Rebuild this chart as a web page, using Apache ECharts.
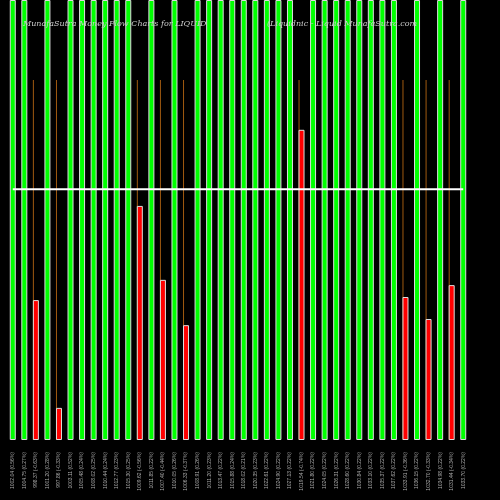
<!DOCTYPE html>
<html>
<head>
<meta charset="utf-8">
<script src="https://cdn.jsdelivr.net/npm/echarts@6/dist/echarts.min.js"></script>
<style>html,body{margin:0;padding:0;background:#000}#c{width:500px;height:500px}</style>
</head>
<body>
<div id="c"></div>
<script>
// bar heights as % of full scale; 100 = green full bar
var flowValues = [100,100,31.8,100,7.3,100,100,100,100,100,100,53.2,100,36.4,100,26.1,100,100,100,100,
                  100,100,100,100,100,70.5,100,100,100,100,100,100,100,100,32.5,100,27.5,100,35.2,100];
var isRed = [0,0,1,0,1,0,0,0,0,0,0,1,0,1,0,1,0,0,0,0, 0,0,0,0,0,1,0,0,0,0,0,0,0,0,1,0,1,0,1,0];
var wickTop = 81.8;
var levelLine = 57.0;
var labels = ['1002.04 (0.56%)','1004.75 (0.27%)','998.37 (-0.63%)','1001.20 (0.28%)','997.86 (-0.33%)',
  '1003.11 (0.52%)','1005.48 (0.24%)','1008.02 (0.25%)','1010.44 (0.24%)','1012.77 (0.23%)',
  '1015.30 (0.25%)','1009.62 (-0.56%)','1011.85 (0.22%)','1007.40 (-0.44%)','1010.05 (0.26%)',
  '1006.33 (-0.37%)','1008.91 (0.26%)','1011.20 (0.23%)','1013.47 (0.22%)','1015.88 (0.24%)',
  '1018.02 (0.21%)','1020.35 (0.23%)','1022.61 (0.22%)','1024.90 (0.22%)','1027.13 (0.22%)',
  '1019.54 (-0.74%)','1021.80 (0.22%)','1024.05 (0.22%)','1026.31 (0.22%)','1028.60 (0.22%)',
  '1030.84 (0.22%)','1033.10 (0.22%)','1035.37 (0.22%)','1037.62 (0.22%)','1033.91 (-0.36%)',
  '1036.15 (0.22%)','1032.70 (-0.33%)','1034.98 (0.22%)','1031.44 (-0.34%)','1033.70 (0.22%)'];

var chart = echarts.init(document.getElementById('c'));
chart.setOption({
    backgroundColor: '#000',
    animation: false,
    title: [
        {text: 'MunafaSutra Money Flow Charts for LIQUID', left: 18, top: 15,
         textStyle: {color: '#ccc', fontSize: 8, fontStyle: 'italic', fontWeight: 'normal', fontFamily: 'DejaVu Serif'}},
        {text: '(Liquidnic - Liquid MunafaSutra.com', left: 262, top: 15,
         textStyle: {color: '#ccc', fontSize: 8, fontStyle: 'italic', fontWeight: 'normal', fontFamily: 'DejaVu Serif'}}
    ],
    grid: {left: 7, right: 31, top: 0, bottom: 60},
    xAxis: {
        type: 'category', data: labels,
        axisLine: {show: false}, axisTick: {show: false},
        axisLabel: {color: '#aaa', fontSize: 5, rotate: 90, interval: 0, margin: 12}
    },
    yAxis: {type: 'value', min: 0, max: 100, show: false, splitLine: {show: false}},
    series: [
        {
            type: 'bar', barWidth: 1, barGap: '-100%', z: 1,
            data: isRed.map(function (r) { return r ? wickTop : 0; }),
            itemStyle: {color: '#a05a10'}
        },
        {
            type: 'bar', barWidth: 6, z: 2,
            data: flowValues.map(function (v, i) {
                return {value: v, itemStyle: {color: isRed[i] ? '#ff0000' : '#00ff00', borderColor: '#ddd', borderWidth: 1}};
            })
        },
        {
            type: 'line', z: 3, symbol: 'none',
            data: flowValues.map(function () { return levelLine; }),
            lineStyle: {color: '#fff', width: 2}
        }
    ]
});
</script>
</body>
</html>
